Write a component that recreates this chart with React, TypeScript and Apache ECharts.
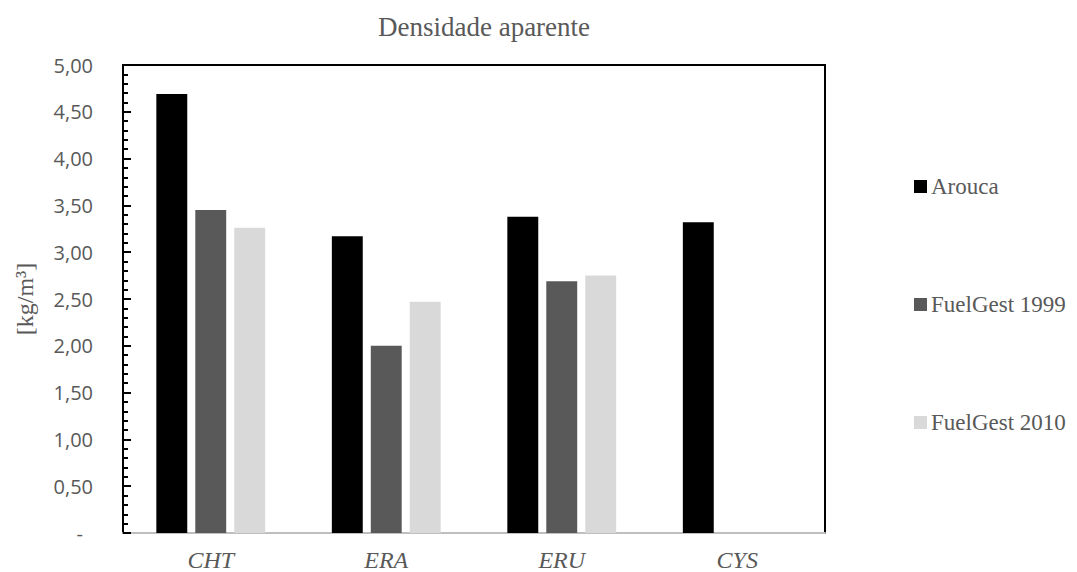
import React, { useEffect, useRef } from "react";
import * as echarts from "echarts";

const categories = ["CHT", "ERA", "ERU", "CYS"];
const arouca = [4.69, 3.17, 3.38, 3.32];
const fuelGest1999 = [3.45, 2.0, 2.69, null];
const fuelGest2010 = [3.26, 2.47, 2.75, null];
const seriesNames = ["Arouca", "FuelGest 1999", "FuelGest 2010"];
const seriesColors = ["#000000", "#595959", "#d9d9d9"];

export default function App() {
  const ref = useRef<HTMLDivElement>(null);
  useEffect(() => {
    if (!ref.current) return;
    const chart = echarts.init(ref.current, null, { renderer: "svg" });
    const data = [arouca, fuelGest1999, fuelGest2010];
    chart.setOption({
      animation: false,
      backgroundColor: "#ffffff",
      title: {
        text: "Densidade aparente",
        left: 479,
        textAlign: "center",
        top: 8,
        textStyle: {
          fontFamily: "Liberation Serif",
          fontSize: 27,
          fontWeight: "normal",
          color: "#595959",
        },
      },
      legend: {
        orient: "vertical",
        left: 909,
        top: 170,
        itemWidth: 13,
        itemHeight: 13,
        itemGap: 95,
        icon: "rect",
        data: seriesNames,
        textStyle: {
          fontFamily: "Liberation Serif",
          fontSize: 23,
          color: "#595959",
          padding: [0, 0, 0, -1],
        },
      },
      grid: {
        left: 123,
        top: 65,
        right: 252,
        bottom: 39,
        show: true,
        borderColor: "#000000",
        borderWidth: 2,
      },
      xAxis: {
        type: "category",
        data: categories,
        axisLine: { show: true, lineStyle: { color: "#bfbfbf", width: 2 } },
        axisTick: { show: false },
        axisLabel: {
          margin: 15,
          fontFamily: "Liberation Serif",
          fontStyle: "italic",
          fontSize: 24,
          color: "#595959",
        },
      },
      yAxis: {
        type: "value",
        min: 0,
        max: 5,
        interval: 0.5,
        name: "[kg/m³]",
        nameLocation: "middle",
        nameGap: 86,
        nameRotate: 90,
        nameTextStyle: {
          fontFamily: "Liberation Serif",
          fontSize: 24,
          color: "#595959",
        },
        splitLine: { show: false },
        axisLine: { show: true, lineStyle: { color: "#000000", width: 2 } },
        axisTick: {
          show: true,
          inside: true,
          length: 8,
          lineStyle: { color: "#000000", width: 2 },
        },
        minorTick: {
          show: true,
          splitNumber: 5,
          length: 5,
          lineStyle: { color: "#000000", width: 2 },
        },
        axisLabel: {
          margin: 30,
          fontFamily: "Open Sans",
          fontSize: 20,
          color: "#595959",
          formatter: (v: number) =>
            v === 0 ? "{d|-}" : v.toFixed(2).replace(".", ","),
          rich: {
            d: {
              fontFamily: "Open Sans",
              fontSize: 20,
              color: "#595959",
              padding: [0, 10, 0, 0],
            },
          },
        },
      },
      series: seriesNames.map((name, i) => ({
        name,
        type: "bar",
        data: data[i],
        barGap: "26%",
        barCategoryGap: "38%",
        itemStyle: { color: seriesColors[i] },
      })),
    });
    return () => chart.dispose();
  }, []);
  return (
    <div
      ref={ref}
      style={{ position: "fixed", left: 0, top: 0, width: 1077, height: 572 }}
    />
  );
}
